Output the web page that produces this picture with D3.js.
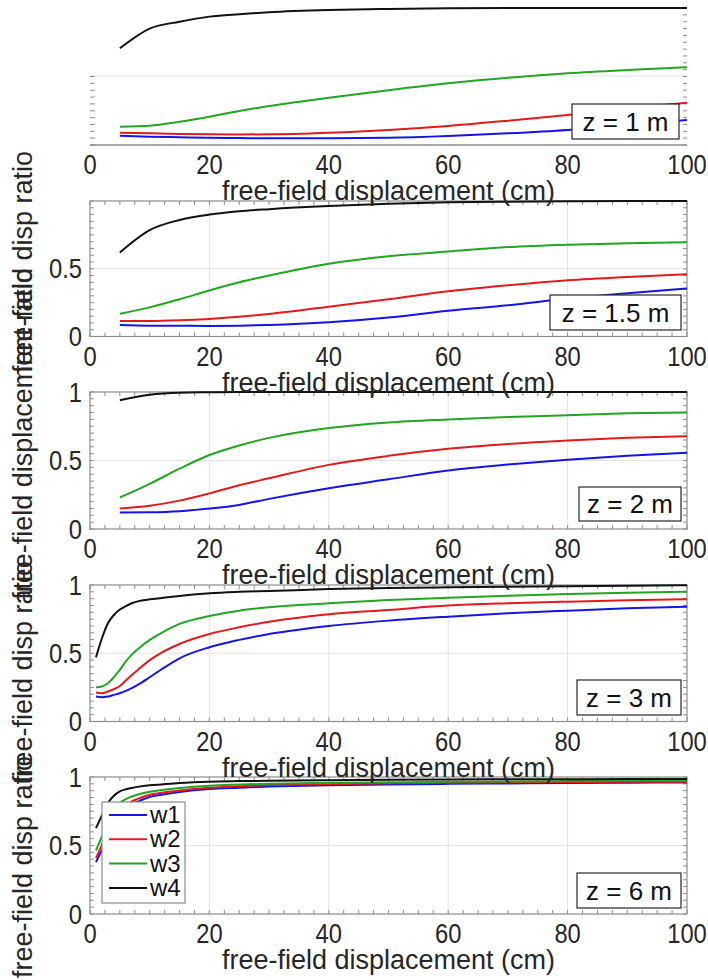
<!DOCTYPE html>
<html><head><meta charset="utf-8">
<script src="https://cdn.jsdelivr.net/npm/d3@7"></script>
<style>body{margin:0;background:#fff}svg{display:block}text{font-family:"Liberation Sans",Arial,Helvetica,sans-serif}</style>
</head><body>
<svg id="c" width="708" height="980"></svg>
<script>
const seriesNames = ["w1","w2","w3","w4"];
const seriesColors = ["#1414e6","#e31a1c","#23a423","#111111"];
const panelLabels = ["z = 1 m","z = 1.5 m","z = 2 m","z = 3 m","z = 6 m"];
const xTicks = [0,20,40,60,80,100];
const yTicks = [0,0.5,1];
const yTickLabels = ["0","0.5","1"];
const xLabel = "free-field displacement (cm)";
const yLabels = [null,"free-field disp ratio","free-field displacement ratio","free-field disp ratio","free-field disp ratio"];

const xsCoarse = [5,10,15,20,25,30,40,50,60,70,80,90,100];
const xsFine = [1,2,3,4,5,6,7,8,10,12,15,20,25,30,40,50,60,70,80,90,100];

const z1_w1 = [0.068,0.061,0.057,0.053,0.051,0.049,0.049,0.053,0.066,0.085,0.11,0.146,0.182];
const z1_w2 = [0.09,0.085,0.081,0.078,0.077,0.078,0.09,0.11,0.139,0.177,0.219,0.268,0.309];
const z1_w3 = [0.134,0.141,0.17,0.207,0.248,0.285,0.345,0.4,0.45,0.49,0.523,0.547,0.567];
const z1_w4 = [0.706,0.85,0.9,0.937,0.955,0.969,0.985,0.993,0.998,1,1,1,1];

const z15_w1 = [0.085,0.08,0.079,0.078,0.08,0.085,0.105,0.14,0.19,0.23,0.28,0.32,0.354];
const z15_w2 = [0.115,0.115,0.12,0.13,0.145,0.166,0.22,0.275,0.334,0.378,0.415,0.44,0.46];
const z15_w3 = [0.168,0.215,0.275,0.34,0.4,0.45,0.537,0.593,0.627,0.66,0.678,0.688,0.695];
const z15_w4 = [0.62,0.785,0.86,0.90,0.925,0.94,0.963,0.98,0.99,0.995,0.998,1,1];

const z2_w1 = [0.12,0.122,0.13,0.149,0.176,0.22,0.298,0.363,0.427,0.47,0.505,0.534,0.556];
const z2_w2 = [0.15,0.17,0.207,0.26,0.32,0.37,0.468,0.534,0.585,0.62,0.646,0.666,0.678];
const z2_w3 = [0.23,0.33,0.44,0.54,0.61,0.665,0.737,0.778,0.80,0.817,0.83,0.844,0.85];
const z2_w4 = [0.94,0.98,0.995,0.998,1,1,1,1,1,1,1,1,1];

const z3_w1 = [0.183,0.178,0.183,0.195,0.207,0.224,0.245,0.268,0.324,0.383,0.463,0.544,0.598,0.641,0.70,0.739,0.768,0.793,0.812,0.829,0.841];
const z3_w2 = [0.212,0.207,0.22,0.237,0.26,0.3,0.34,0.378,0.45,0.505,0.568,0.641,0.69,0.73,0.785,0.817,0.849,0.866,0.878,0.888,0.895];
const z3_w3 = [0.25,0.256,0.28,0.325,0.378,0.44,0.49,0.53,0.598,0.65,0.715,0.773,0.812,0.837,0.866,0.89,0.907,0.922,0.934,0.944,0.951];
const z3_w4 = [0.47,0.61,0.72,0.78,0.82,0.845,0.866,0.88,0.895,0.905,0.92,0.94,0.95,0.956,0.97,0.978,0.983,0.987,0.99,0.995,0.998];

const z6_w1 = [0.378,0.468,0.566,0.663,0.73,0.77,0.8,0.82,0.854,0.87,0.89,0.912,0.922,0.93,0.94,0.946,0.95,0.953,0.956,0.958,0.96];
const z6_w2 = [0.407,0.505,0.6,0.7,0.76,0.795,0.822,0.84,0.87,0.885,0.902,0.922,0.933,0.941,0.949,0.954,0.958,0.961,0.963,0.965,0.966];
const z6_w3 = [0.463,0.566,0.66,0.76,0.81,0.838,0.858,0.872,0.893,0.905,0.92,0.937,0.945,0.951,0.957,0.961,0.965,0.968,0.97,0.972,0.973];
const z6_w4 = [0.627,0.72,0.81,0.863,0.895,0.91,0.92,0.928,0.939,0.946,0.956,0.966,0.97,0.973,0.977,0.98,0.982,0.983,0.984,0.985,0.985];

const panels = [
  {xs: xsCoarse, ys:[z1_w1,z1_w2,z1_w3,z1_w4], y0:145, y1:8, partial:true, box:[572,104,107,35], yt:[]},
  {xs: xsCoarse, ys:[z15_w1,z15_w2,z15_w3,z15_w4], y0:336.5, y1:201, box:[550,295,131,35], yt:[0,1]},
  {xs: xsCoarse, ys:[z2_w1,z2_w2,z2_w3,z2_w4], y0:529, y1:392, box:[579,487,102,34], yt:[0,1,2]},
  {xs: xsFine, ys:[z3_w1,z3_w2,z3_w3,z3_w4], y0:721.5, y1:585, box:[577,680,104,35], yt:[0,1,2]},
  {xs: xsFine, ys:[z6_w1,z6_w2,z6_w3,z6_w4], y0:914, y1:777, box:[577,873,104,35], yt:[0,1,2]}
];
const yLabelCenters = [null, 262, 434, 672, 867];

const svg = d3.select("#c");
const XL = 90, XR = 687;
const FS = 27;
const NUMSX = 0.88;
const txt = "#262626";
const axisCol = "#8c8c8c";
const gridCol = "#e3e3e3";
const x = d3.scaleLinear().domain([0,100]).range([XL,XR]);
const labelLayer = [];

panels.forEach((p,pi)=>{
  const y = d3.scaleLinear().domain([0,1]).range([p.y0,p.y1]);
  const g = svg.append("g");
  const minorX = d3.range(0,101,2.5);
  const minorY = d3.range(0,1.0001,0.05);
  if(!p.partial){
    g.selectAll(".gx").data(xTicks.slice(1,-1)).join("line")
      .attr("x1",d=>x(d)).attr("x2",d=>x(d)).attr("y1",y(0)).attr("y2",y(1))
      .attr("stroke",gridCol).attr("stroke-width",1);
    g.selectAll(".gy").data([0.5]).join("line")
      .attr("x1",XL).attr("x2",XR).attr("y1",d=>y(d)).attr("y2",d=>y(d))
      .attr("stroke",gridCol).attr("stroke-width",1);
    g.append("g").selectAll("line").data(minorX).join("line")
      .attr("x1",d=>x(d)).attr("x2",d=>x(d)).attr("y1",y(0)).attr("y2",y(0)-4)
      .attr("stroke",axisCol);
    g.append("g").selectAll("line").data(minorX).join("line")
      .attr("x1",d=>x(d)).attr("x2",d=>x(d)).attr("y1",y(1)).attr("y2",y(1)+4)
      .attr("stroke",axisCol);
    g.append("g").selectAll("line").data(minorY).join("line")
      .attr("x1",XL).attr("x2",XL+4).attr("y1",d=>y(d)).attr("y2",d=>y(d))
      .attr("stroke",axisCol);
    g.append("g").selectAll("line").data(minorY).join("line")
      .attr("x1",XR).attr("x2",XR-4).attr("y1",d=>y(d)).attr("y2",d=>y(d))
      .attr("stroke",axisCol);
    g.append("rect").attr("x",XL).attr("y",y(1)).attr("width",XR-XL).attr("height",y(0)-y(1))
      .attr("fill","none").attr("stroke",axisCol).attr("stroke-width",1.2);
    p.yt.forEach(i=>labelLayer.push({x:XL-8,y:y(yTicks[i])+9.5,t:yTickLabels[i],anchor:"end",size:FS,sx:NUMSX}));
  } else {
    const yCut = 76;
    g.append("line").attr("x1",XL).attr("x2",XR).attr("y1",yCut).attr("y2",yCut)
      .attr("stroke","#ededed").attr("stroke-width",1.5);
    g.append("g").selectAll("line").data(minorY.filter(d=>y(d)>=yCut)).join("line")
      .attr("x1",XL).attr("x2",XL+5).attr("y1",d=>y(d)).attr("y2",d=>y(d))
      .attr("stroke",axisCol);
    g.append("g").selectAll("line").data(minorY.filter(d=>y(d)>=14)).join("line")
      .attr("x1",XR).attr("x2",XR-4).attr("y1",d=>y(d)).attr("y2",d=>y(d))
      .attr("stroke",axisCol);
    g.append("line").attr("x1",XL).attr("x2",XR).attr("y1",y(0)).attr("y2",y(0))
      .attr("stroke",axisCol).attr("stroke-width",1.5);
  }
  const line = d3.line().x(d=>x(d[0])).y(d=>y(d[1])).curve(d3.curveMonotoneX);
  p.ys.forEach((vals,si)=>{
    g.append("path").datum(p.xs.map((xv,k)=>[xv,vals[k]]))
      .attr("d",line).attr("fill","none").attr("stroke",seriesColors[si])
      .attr("stroke-width",2).attr("stroke-linejoin","round");
  });
  const [bx,by,bw,bh] = p.box;
  g.append("rect").attr("x",bx).attr("y",by).attr("width",bw).attr("height",bh)
    .attr("fill","#fff").attr("stroke","#262626").attr("stroke-width",1.2);
  g.append("text").attr("x",bx+bw/2).attr("y",by+bh/2+9).attr("text-anchor","middle")
    .attr("font-size",26).attr("fill","#111").text(panelLabels[pi]);
  xTicks.forEach(t=>labelLayer.push({x:x(t),y:p.y0+29,t:String(t),anchor:"middle",size:FS,sx:NUMSX}));
  labelLayer.push({x:(XL+XR)/2,y:p.y0+55,t:xLabel,anchor:"middle",size:FS,sx:1});
  if(yLabels[pi]) labelLayer.push({x:32,y:yLabelCenters[pi],t:yLabels[pi],anchor:"middle",size:FS,rot:true});
});

const lg = svg.append("g");
lg.append("rect").attr("x",102).attr("y",802).attr("width",83).attr("height",101)
  .attr("fill","#fff").attr("stroke","#8c8c8c").attr("stroke-width",1.2);
seriesNames.forEach((n,i)=>{
  const yy = 815 + i*24.3;
  lg.append("line").attr("x1",109).attr("x2",147).attr("y1",yy).attr("y2",yy)
    .attr("stroke",seriesColors[i]).attr("stroke-width",2);
  lg.append("text").attr("x",150).attr("y",yy+8).attr("font-size",24).attr("fill","#111").text(n);
});

labelLayer.forEach(l=>{
  const t = svg.append("text").attr("font-size",l.size).attr("fill",txt).attr("text-anchor",l.anchor).text(l.t);
  if(l.rot) t.attr("transform",`translate(${l.x},${l.y}) rotate(-90)`);
  else t.attr("transform",`translate(${l.x},${l.y}) scale(${l.sx},1)`);
});
</script>
</body></html>
